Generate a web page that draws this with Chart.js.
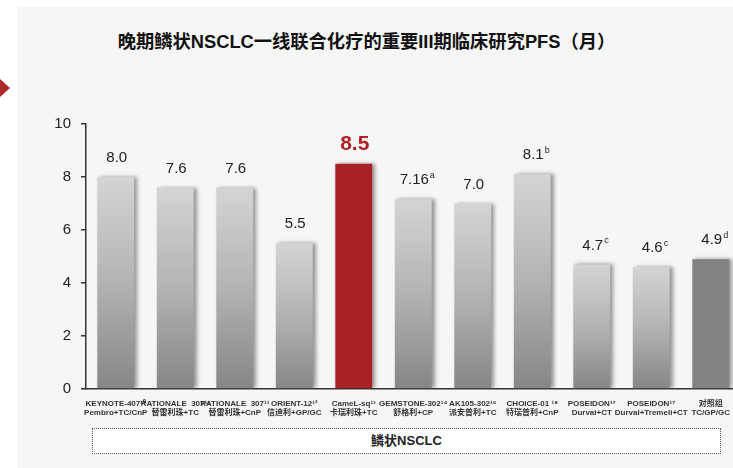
<!DOCTYPE html>
<html>
<head>
<meta charset="utf-8">
<script src="https://cdn.jsdelivr.net/npm/chart.js@4"></script>
<style>
  body { margin: 0; background: #fff; width: 733px; height: 468px; overflow: hidden; position: relative;
         font-family: "Liberation Sans", Arial, "Noto Sans CJK SC", sans-serif; }
  .panel { position: absolute; left: 17px; top: 7px; width: 760px; height: 470px; background: #f6f6f6; }
  .arrow { position: absolute; left: 0; top: 79px; width: 0; height: 0;
           border-top: 9px solid transparent; border-bottom: 9px solid transparent; border-left: 10px solid #b0272c; }
  .title { position: absolute; left: 0; width: 733px; top: 27px; text-align: center; font-size: 18.3px; font-weight: bold;
           color: #111; font-family: "Liberation Sans", Arial, "Noto Sans CJK SC", sans-serif; }
  #wrap { position: absolute; left: 0; top: 0; }
  .group { position: absolute; left: 92px; top: 428px; width: 627px; height: 24px; border: 1px dotted #555;
           background: #fff; text-align: center; line-height: 24px; font-size: 13px; font-weight: bold; color: #222;
           font-family: "Liberation Sans", Arial, "Noto Sans CJK SC", sans-serif; }
</style>
</head>
<body>
<div class="panel"></div>
<div class="arrow"></div>
<div class="title">晚期鳞状NSCLC一线联合化疗的重要III期临床研究PFS（月）</div>
<div id="wrap"><canvas id="pfsChart" width="760" height="425"></canvas></div>
<div class="group">鳞状NSCLC</div>
<script>
// 研究名称（两行）
const studyNames = ['KEYNOTE-407¹⁰', 'RATIONALE  307¹¹', 'RATIONALE  307¹¹', 'ORIENT-12¹²', 'CameL-sq¹³',
  'GEMSTONE-302¹⁴', 'AK105-302¹⁶', 'CHOICE-01 ¹⁸', 'POSEIDON¹⁷', 'POSEIDON¹⁷', '对照组'];
const regimens = ['Pembro+TC/CnP', '替雷利珠+TC', '替雷利珠+CnP', '信迪利+GP/GC', '卡瑞利珠+TC',
  '舒格利+CP', '派安普利+TC', '特瑞普利+CnP', 'Durval+CT', 'Durval+Tremeli+CT', 'TC/GP/GC'];
// PFS（月）
const pfsValues = [8.0, 7.6, 7.6, 5.5, 8.5, 7.16, 7.0, 8.1, 4.7, 4.6, 4.9];
const valueLabels = ['8.0', '7.6', '7.6', '5.5', '8.5', '7.16', '7.0', '8.1', '4.7', '4.6', '4.9'];
const footnotes = ['', '', '', '', '', 'a', '', 'b', 'c', 'c', 'd'];
const yTicks = [0, 2, 4, 6, 8, 10];

const HIGHLIGHT = 4;   // 卡瑞利珠
const CONTROL = 10;    // 对照组
const FONT = '"Liberation Sans", Arial, "Noto Sans CJK SC", sans-serif';

const labels = studyNames.map((s, i) => [s, regimens[i]]);

function barColor(ctx) {
  const i = ctx.dataIndex;
  if (i === HIGHLIGHT) return '#a92025';
  if (i === CONTROL) return '#828282';
  const chart = ctx.chart;
  const y = chart.scales.y;
  if (!y) return '#b0b0b0';
  const top = y.getPixelForValue(pfsValues[i]);
  const bottom = y.getPixelForValue(0);
  if (!isFinite(top) || !isFinite(bottom) || top === bottom) return '#b0b0b0';
  const g = chart.ctx.createLinearGradient(0, top, 0, bottom);
  g.addColorStop(0, '#d4d4d4');
  g.addColorStop(0.5, '#b3b3b3');
  g.addColorStop(1, '#868686');
  return g;
}

// 阴影
const barShadow = {
  id: 'barShadow',
  beforeDatasetDraw(chart) {
    const c = chart.ctx;
    c.save();
    c.shadowColor = 'rgba(0,0,0,0.4)';
    c.shadowOffsetX = 3;
    c.shadowOffsetY = 0;
    c.shadowBlur = 4;
  },
  afterDatasetDraw(chart) {
    chart.ctx.restore();
  }
};

// 数值标签
const valueTags = {
  id: 'valueTags',
  afterDatasetsDraw(chart) {
    const c = chart.ctx;
    const bars = chart.getDatasetMeta(0).data;
    c.save();
    c.textBaseline = 'middle';
    bars.forEach((bar, i) => {
      const big = i === HIGHLIGHT;
      const main = valueLabels[i];
      c.font = (big ? 'bold 21px ' : '15px ') + FONT;
      c.fillStyle = big ? '#b02126' : '#222';
      const w = c.measureText(main).width;
      const yy = bar.y - (big ? 20 : 19);
      c.textAlign = 'left';
      c.fillText(main, bar.x - w / 2 + 1, yy);
      if (footnotes[i]) {
        c.font = '9px ' + FONT;
        c.fillText(footnotes[i], bar.x + w / 2 + 2, yy - 5);
      }
    });
    c.restore();
  }
};

new Chart(document.getElementById('pfsChart'), {
  type: 'bar',
  data: {
    labels: labels,
    datasets: [{
      data: pfsValues,
      backgroundColor: barColor,
      borderWidth: 0,
      barPercentage: 0.62,
      categoryPercentage: 1
    }]
  },
  options: {
    responsive: false,
    animation: false,
    layout: { padding: { top: 124, right: 19.5, left: 0, bottom: 0 } },
    plugins: { legend: { display: false }, tooltip: { enabled: false } },
    scales: {
      x: {
        offset: true,
        grid: { display: false, drawTicks: false },
        border: { display: true, color: '#333', width: 1.5 },
        afterFit(scale) { scale.height = 36; },
        ticks: {
          autoSkip: false, maxRotation: 0, minRotation: 0, padding: 10,
          color: '#333',
          font: { size: 8, weight: 'bold', family: FONT, lineHeight: 1.15 }
        }
      },
      y: {
        min: 0, max: 10,
        afterFit(scale) { scale.width = 86; },
        afterBuildTicks(scale) { scale.ticks = yTicks.map(v => ({ value: v })); },
        grid: { drawOnChartArea: false, drawTicks: true, tickLength: 5, color: '#333', lineWidth: 1.5 },
        border: { display: true, color: '#333', width: 1.5 },
        ticks: { color: '#222', padding: 10, font: { size: 15, family: FONT } }
      }
    }
  },
  plugins: [barShadow, valueTags]
});
</script>
</body>
</html>
